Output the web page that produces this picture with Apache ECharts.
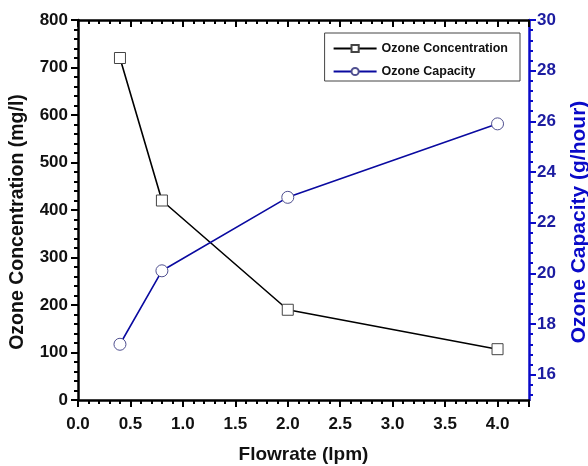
<!DOCTYPE html>
<html>
<head>
<meta charset="utf-8">
<script src="https://cdn.jsdelivr.net/npm/echarts@6/dist/echarts.min.js"></script>
<style>
  html, body { margin: 0; padding: 0; background: #fff; }
  #chart { width: 588px; height: 466px; }
</style>
</head>
<body>
<div id="chart"></div>
<script>
// Flowrate (lpm) at which each measurement was taken
const flowrates = [0.4, 0.8, 2.0, 4.0];
// Ozone concentration (mg/l), left axis
const concentration = [720, 420, 190, 107];
// Ozone capacity (g/hour), right axis
const capacity = [17.2, 20.1, 23.0, 25.9];

const seriesNames = ['Ozone Concentration', 'Ozone Capacity'];

// Right-axis labelled ticks and the minor ticks between them
const capacityTicks = [16, 18, 20, 22, 24, 26, 28, 30];
const capacityMinorTicks = [];
for (let k = 0; k <= 37; k++) capacityMinorTicks.push(+(15.2 + k * 0.4).toFixed(1));

const BLUE = '#0a0ac8';
const BLUE_TEXT = '#1c1ca0';
const FONT = 'Liberation Sans, Arial, sans-serif';

const chart = echarts.init(document.getElementById('chart'), null, { renderer: 'canvas' });

const pairs = (ys) => flowrates.map((x, i) => [x, ys[i]]);

const blackLine = { onZero: false, show: true, lineStyle: { color: '#000', width: 2.5 } };
const blackTick = (inside) => ({ show: true, inside, length: 7, lineStyle: { color: '#000', width: 2 } });
const blackMinor = { show: true, splitNumber: 5, length: 4, lineStyle: { color: '#000', width: 2 } };

chart.setOption({
  animation: false,
  backgroundColor: '#ffffff',
  grid: {
    left: 78, right: 59, top: 20, bottom: 66,
    containLabel: false,
    outerBoundsMode: 'none'
  },
  legend: {
    orient: 'vertical',
    right: 68,
    top: 33,
    padding: [9, 12, 3, 8],
    itemGap: 10,
    itemWidth: 43,
    itemHeight: 9,
    borderColor: '#444',
    borderWidth: 1,
    borderRadius: 0,
    backgroundColor: '#fff',
    textStyle: { fontFamily: FONT, fontWeight: 'bold', fontSize: 12.5, color: '#111' },
    data: seriesNames
  },
  xAxis: [
    {
      type: 'value',
      min: 0,
      max: 4.3,
      interval: 0.5,
      name: 'Flowrate (lpm)',
      nameLocation: 'middle',
      nameGap: 45,
      nameTextStyle: { fontFamily: FONT, fontWeight: 'bold', fontSize: 19, color: '#111' },
      axisLine: blackLine,
      axisTick: blackTick(false),
      minorTick: blackMinor,
      axisLabel: {
        fontFamily: FONT, fontWeight: 'bold', fontSize: 17, color: '#111', margin: 16,
        showMaxLabel: false,
        formatter: (v) => v.toFixed(1)
      },
      splitLine: { show: false }
    },
    {
      type: 'value',
      position: 'top',
      min: 0,
      max: 4.3,
      interval: 0.5,
      axisLine: blackLine,
      axisTick: blackTick(true),
      minorTick: blackMinor,
      axisLabel: { show: false },
      splitLine: { show: false }
    }
  ],
  yAxis: [
    {
      type: 'value',
      min: 0,
      max: 800,
      interval: 100,
      position: 'left',
      name: 'Ozone Concentration (mg/l)',
      nameLocation: 'middle',
      nameGap: 50,
      nameRotate: 90,
      nameTextStyle: {
        fontFamily: FONT, fontWeight: 'bold', fontSize: 19.5, color: '#111',
        padding: [0, 24, 0, 0]
      },
      axisLine: blackLine,
      axisTick: blackTick(false),
      minorTick: blackMinor,
      axisLabel: { fontFamily: FONT, fontWeight: 'bold', fontSize: 17, color: '#111', margin: 10 },
      splitLine: { show: false }
    },
    {
      type: 'value',
      min: 15,
      max: 30,
      position: 'right',
      name: 'Ozone Capacity (g/hour)',
      nameLocation: 'middle',
      nameGap: 40,
      nameRotate: 90,
      nameTextStyle: {
        fontFamily: FONT, fontWeight: 'bold', fontSize: 21, color: BLUE,
        padding: [0, 24, 0, 0]
      },
      axisLine: { onZero: false, show: true, lineStyle: { color: BLUE, width: 2.5 } },
      axisTick: { show: true, inside: false, length: 7, customValues: capacityTicks, lineStyle: { color: BLUE, width: 2 } },
      axisLabel: {
        fontFamily: FONT, fontWeight: 'bold', fontSize: 17, color: BLUE_TEXT, margin: 8,
        customValues: capacityTicks
      },
      splitLine: { show: false }
    },
    {
      // minor ticks of the capacity axis
      type: 'value',
      min: 15,
      max: 30,
      position: 'right',
      axisLine: { onZero: false, show: false },
      axisTick: { show: true, inside: false, length: 4, customValues: capacityMinorTicks, lineStyle: { color: BLUE, width: 2 } },
      axisLabel: { show: false },
      splitLine: { show: false }
    }
  ],
  series: [
    {
      name: seriesNames[0],
      type: 'line',
      xAxisIndex: 0,
      yAxisIndex: 0,
      data: pairs(concentration),
      symbol: 'rect',
      symbolSize: 11,
      lineStyle: { color: '#000', width: 1.6 },
      itemStyle: { color: '#fff', borderColor: '#444', borderWidth: 1 },
      z: 3
    },
    {
      name: seriesNames[1],
      type: 'line',
      xAxisIndex: 0,
      yAxisIndex: 1,
      data: pairs(capacity),
      symbol: 'circle',
      symbolSize: 12,
      lineStyle: { color: '#0a0aa0', width: 1.6 },
      itemStyle: { color: '#fff', borderColor: '#505090', borderWidth: 1 },
      z: 3
    }
  ]
});
</script>
</body>
</html>
